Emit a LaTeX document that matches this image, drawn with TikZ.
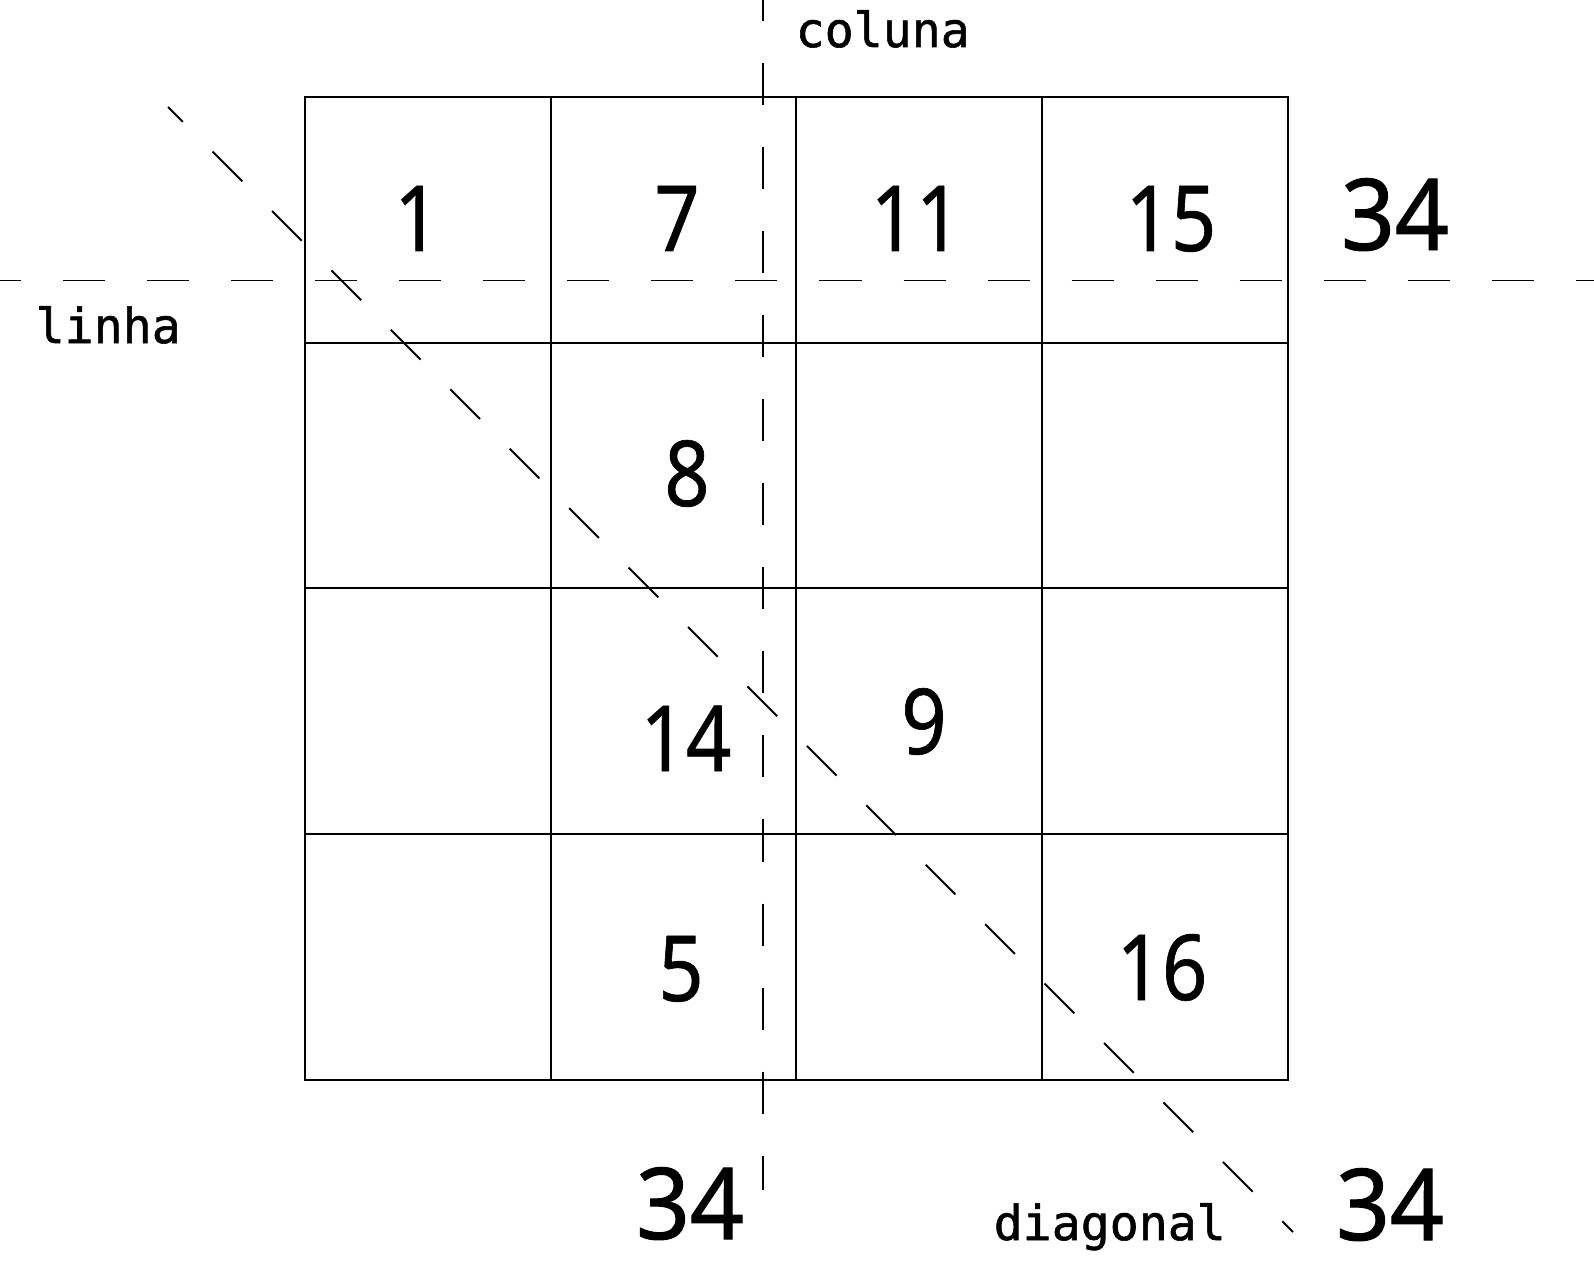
\documentclass[tikz,border=0pt]{standalone}
\usepackage{fontspec}
\setmainfont{Noto Sans}
\newfontfamily\cellfont[FakeStretch=0.87, FakeBold=0.7]{Noto Sans}
\newfontfamily\sumfont[FakeStretch=0.95, FakeBold=1]{Noto Sans}
\newfontfamily\monofont[FakeBold=1.2]{DejaVu Sans Mono}
\tikzset{
	cell/.style={draw, line width=0.55pt, minimum size=2.457cm, inner sep=0pt, outer sep=0pt},
	num/.style={anchor=base, inner sep=0pt, font=\cellfont\fontsize{25.9}{30}\selectfont},
	total/.style={anchor=base, inner sep=0pt, font=\sumfont\fontsize{28.2}{32}\selectfont},
	tag/.style={anchor=base west, inner sep=0pt, font=\monofont\fontsize{13.7}{16}\selectfont},
	guide/.style={line width=0.55pt, dash pattern=on 0.42cm off 0.42cm, dash phase=0.21cm}
}
\begin{document}
\begin{tikzpicture}[x=0.01cm, y=-0.01cm]
%		\draw[help lines] (0,0) grid (1594,1288);
		\useasboundingbox (0,0) rectangle (1594,1288);
		\foreach \r in {0,...,3}
			\foreach \c in {0,...,3}
				\node[cell] (c\r\c) at ({427.9+245.7*\c},{219.9+245.7*\r}) {};
		\node[num] (n1) at (417,251) {1};
		\node[num] (n7) at (677,251) {7};
		\node[num] (n11) at (916,251) {11};
		\node[num] (n15) at (1171,251) {15};
		\node[num] (n8) at (687,506) {8};
		\node[num] (n14) at (686,771) {14};
		\node[num] (n9) at (924,754) {9};
		\node[num] (n5) at (681,1001) {5};
		\node[num] (n16) at (1162,1000) {16};
		\node[total] (sumR) at (1395,250) {34};
		\node[total] (sumC) at (690,1239) {34};
		\node[total] (sumD) at (1390,1240) {34};
		\node[tag] (coluna) at (795,47) {coluna};
		\node[tag] (linha) at (35,343) {linha};
		\node[tag] (diagonal) at (993,1240) {diagonal};
		\coordinate (linhaW) at (0,280.5);
		\coordinate (linhaE) at (1594,280.5);
		\coordinate (colunaN) at (763,0);
		\coordinate (colunaS) at (763,1190);
		\coordinate (diagNW) at (168,107);
		\coordinate (diagSE) at (1293,1232);
		\draw[guide] (linhaW) -- (linhaE);
		\draw[guide] (colunaN) -- (colunaS);
		\draw[guide] (diagNW) -- (diagSE);
\end{tikzpicture}
\end{document}
